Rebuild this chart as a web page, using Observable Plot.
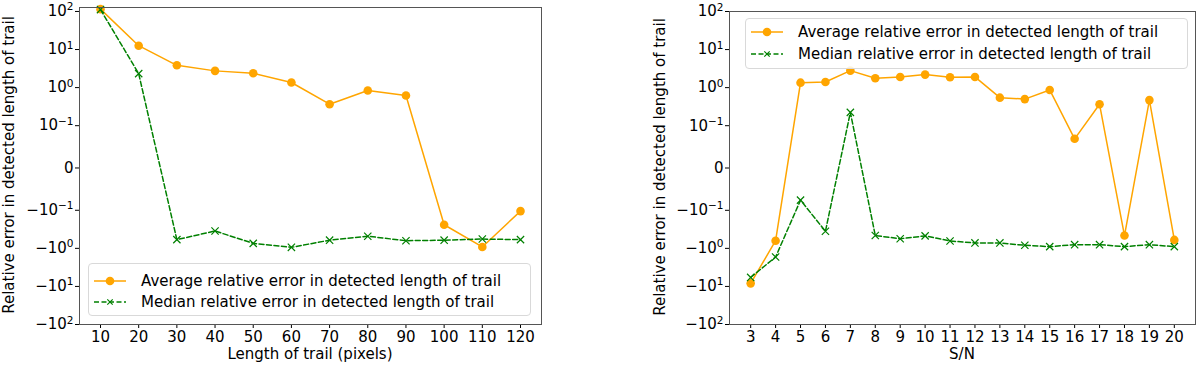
<!DOCTYPE html>
<html><head><meta charset="utf-8">
<script src="https://cdn.jsdelivr.net/npm/d3@7"></script>
<script src="https://cdn.jsdelivr.net/npm/@observablehq/plot@0.6"></script>
<style>
body{margin:0;background:#fff;font-family:"DejaVu Sans",sans-serif;color:#000;}
#wrap{position:relative;width:1200px;height:366px;overflow:hidden;}
.panel{position:absolute;top:0;}
.lbl{position:absolute;font-size:15px;white-space:nowrap;line-height:1;}
.ylbl{transform:translate(-50%,-50%) rotate(-90deg);}
.xlbl{transform:translate(-50%,-50%);}
.legend{position:absolute;border:1px solid #d9d9d9;border-radius:4px;background:rgba(255,255,255,0.85);font-size:15px;box-sizing:border-box;}
.legend .row{position:absolute;left:0;height:20px;display:flex;align-items:center;white-space:nowrap;}
.legend svg{margin-left:4px;margin-right:14px;}
</style>
</head><body>
<div id="wrap"></div>
<script>
// ---- data ----
const lengths = [10, 20, 30, 40, 50, 60, 70, 80, 90, 100, 110, 120];
const lengthAvg = [115, 12.6, 3.85, 2.75, 2.38, 1.36, 0.366, 0.84, 0.62, -0.24, -0.92, -0.105];
const lengthMedian = [112, 2.33, -0.59, -0.35, -0.74, -0.94, -0.61, -0.48, -0.63, -0.61, -0.57, -0.59];
const snr = [3, 4, 5, 6, 7, 8, 9, 10, 11, 12, 13, 14, 15, 16, 17, 18, 19, 20];
const snrAvg = [-8.3, -0.63, 1.35, 1.41, 2.8, 1.76, 1.91, 2.2, 1.87, 1.91, 0.545, 0.5, 0.87, 0.069, 0.365, -0.46, 0.47, -0.6];
const snrMedian = [-5.8, -1.69, -0.076, -0.356, 0.224, -0.46, -0.56, -0.47, -0.64, -0.72, -0.72, -0.83, -0.9, -0.8, -0.8, -0.9, -0.8, -0.9];
const yTicks = [-100, -10, -1, -0.1, 0, 0.1, 1, 10, 100];
const yTickLabels = ["−10²", "−10¹", "−10⁰", "−10⁻¹", "0", "10⁻¹", "10⁰", "10¹", "10²"];
const seriesNames = ["Average relative error in detected length of trail", "Median relative error in detected length of trail"];
const yLabel = "Relative error in detected length of trail";
const xLabels = ["Length of trail (pixels)", "S/N"];

// matplotlib-style symlog (linthresh 0.1, linscale 1, base 10), in decades
function symlogMpl(v) {
  const lt = 0.1, adj = 1 / (1 - 0.1), a = Math.abs(v);
  return a <= lt ? (v / lt) * adj : Math.sign(v) * (adj + Math.log10(a / lt));
}
const yTicksT = yTicks.map(symlogMpl);
const supMap = {"⁰":"0","¹":"1","²":"2","³":"3","⁻":"−"};

const wrap = document.getElementById("wrap");

function panel(xs, avg, med, opts) {
  const dataA = xs.map((x, i) => ({x, y: avg[i]}));
  const dataM = xs.map((x, i) => ({x, y: med[i]}));
  const tickLabel = (d, i) => {
    let k = yTicksT.findIndex(t => Math.abs(t - d) < 1e-9);
    if (k < 0) k = i;
    return yTickLabels[k];
  };
  const chart = Plot.plot({
    width: opts.width, height: 366,
    marginLeft: opts.ml, marginRight: opts.mr, marginTop: opts.mt, marginBottom: 42,
    style: {fontFamily: "DejaVu Sans", fontSize: "15px", color: "#000", background: "transparent", overflow: "visible"},
    x: {domain: opts.xdomain},
    y: {domain: opts.ydomain, transform: symlogMpl},
    marks: [
      Plot.axisX({ticks: xs, tickSize: 4, tickPadding: 3, label: null, tickFormat: d => String(d)}),
      Plot.axisY({ticks: yTicksT, tickSize: 4, tickPadding: 2, label: null, tickFormat: tickLabel}),
      Plot.line(dataA, {x: "x", y: "y", stroke: "orange", strokeWidth: 1.5}),
      Plot.dot(dataA, {x: "x", y: "y", r: 4.3, fill: "orange"}),
      Plot.line(dataM, {x: "x", y: "y", stroke: "green", strokeWidth: 1.5, strokeDasharray: "5,2.5"}),
      Plot.dot(dataM, {x: "x", y: "y", symbol: "times", r: 3.4, stroke: "green", strokeWidth: 1.2}),
      Plot.frame({stroke: "#555", strokeWidth: 1})
    ]
  });
  // render superscripts matplotlib-style (smaller, raised) using tspans
  chart.querySelectorAll('[aria-label="y-axis tick label"] text').forEach(t => {
    const s = t.textContent;
    const idx = [...s].findIndex(c => c in supMap);
    if (idx < 0) return;
    const chars = [...s];
    const base = chars.slice(0, idx).join("");
    const exp = chars.slice(idx).map(c => supMap[c]).join("");
    t.textContent = "";
    const ns = "http://www.w3.org/2000/svg";
    const b = document.createElementNS(ns, "tspan");
    b.textContent = base;
    const e = document.createElementNS(ns, "tspan");
    e.textContent = exp;
    e.setAttribute("font-size", "10.5px");
    e.setAttribute("dy", "-0.55em");
    t.appendChild(b); t.appendChild(e);
  });
  const div = document.createElement("div");
  div.className = "panel";
  div.style.left = opts.left + "px";
  div.appendChild(chart);
  wrap.appendChild(div);
}

panel(lengths, lengthAvg, lengthMedian, {
  left: 0, width: 600, ml: 79, mr: 59, mt: 7,
  xdomain: [4.5, 125.5], ydomain: [-symlogMpl(100), 4.215]
});
panel(snr, snrAvg, snrMedian, {
  left: 600, width: 600, ml: 129, mr: 5, mt: 11,
  xdomain: [2.15, 20.85], ydomain: [-symlogMpl(100), symlogMpl(100)]
});

function addLabel(text, x, y, cls) {
  const d = document.createElement("div");
  d.className = "lbl " + cls;
  d.style.left = x + "px"; d.style.top = y + "px";
  d.textContent = text;
  wrap.appendChild(d);
}
addLabel(yLabel, 9, 165, "ylbl");
addLabel(yLabel, 660, 167, "ylbl");
addLabel(xLabels[0], 310, 354, "xlbl");
addLabel(xLabels[1], 962, 354, "xlbl");

function sample(kind) {
  const ns = "http://www.w3.org/2000/svg";
  const s = document.createElementNS(ns, "svg");
  s.setAttribute("width", 34); s.setAttribute("height", 12);
  if (kind === 0) {
    s.innerHTML = '<line x1="1" y1="6" x2="33" y2="6" stroke="orange" stroke-width="1.5"/><circle cx="17" cy="6" r="4.3" fill="orange"/>';
  } else {
    s.innerHTML = '<line x1="1" y1="6" x2="33" y2="6" stroke="green" stroke-width="1.5" stroke-dasharray="5,2.5"/><path d="M14.3,3.3L19.7,8.7M14.3,8.7L19.7,3.3" stroke="green" stroke-width="1.2"/>';
  }
  return s;
}
function addLegend(x, y, w, h, rows) {
  const L = document.createElement("div");
  L.className = "legend";
  Object.assign(L.style, {left: x + "px", top: y + "px", width: w + "px", height: h + "px"});
  seriesNames.forEach((name, i) => {
    const r = document.createElement("div");
    r.className = "row";
    r.style.top = (rows[i] - 10) + "px";
    r.appendChild(sample(i));
    const t = document.createElement("span");
    t.textContent = name;
    r.appendChild(t);
    L.appendChild(r);
  });
  wrap.appendChild(L);
}
addLegend(88, 263, 443, 53, [16.5, 38.3]);
addLegend(745, 18, 443, 51, [12.5, 34.5]);
</script>
</body></html>
